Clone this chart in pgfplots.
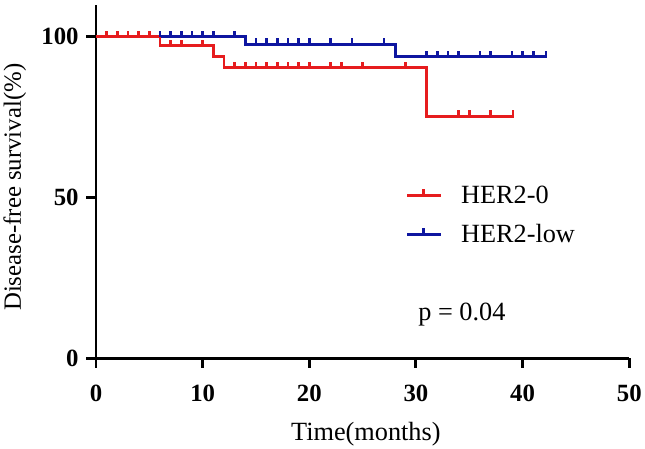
\documentclass[border=0pt]{standalone}
\usepackage{pgfplots}
\pgfplotsset{compat=1.18}
\usepackage{fontspec}
\setmainfont{Liberation Serif}

\definecolor{kmred}{RGB}{230,28,30}
\definecolor{kmblue}{RGB}{14,22,160}

% censor mark: short upward tick
\pgfdeclareplotmark{cens}{%
  \pgfpathmoveto{\pgfqpoint{0pt}{0pt}}%
  \pgfpathlineto{\pgfqpoint{0pt}{6pt}}%
  \pgfusepathqstroke}

\begin{document}
\begin{tikzpicture}
\begin{axis}[
    scale only axis,
    width=537.7pt, height=356.4pt,
    xmin=0, xmax=50, ymin=0, ymax=110,
    axis x line=bottom, axis y line=left,
    axis line style={-, line width=3pt},
    xtick={0,10,20,30,40,50},
    ytick={0,50,100},
    tick align=outside,
    major tick length=10pt,
    tick style={line width=3pt, black},
    /pgf/number format/assume math mode=true,
    ticklabel style={font=\fontsize{25}{25}\selectfont\bfseries},
    xticklabel style={yshift=-14pt},
    yticklabel style={xshift=-4pt},
    xlabel={Time(months)},
    ylabel={Disease-free survival(\%)},
    xlabel style={at={(axis description cs:0.506,-0.214)}, anchor=center,
        font=\fontsize{26.5}{26.5}\selectfont},
    ylabel style={at={(axis description cs:-0.1525,0.483)}, anchor=center,
        font=\fontsize{25}{25}\selectfont},
    clip=false,
    legend style={draw=none, fill=none, at={(axis description cs:0.58,0.405)},
        anchor=west, inner sep=0pt, row sep=20pt,
        font=\fontsize{26.5}{26.5}\selectfont,
        nodes={inner xsep=0pt, inner ysep=0pt}},
    legend cell align=left,
    legend image code/.code={%
        \draw[#1] (0pt,0pt) -- (34pt,0pt);
        \draw[#1] (17pt,0pt) -- (17pt,6pt);
        \path (53pt,0pt);},
]

% blue drawn first (red lies on top where both are at 100%)
\addplot[kmblue, line width=3pt, const plot, forget plot] coordinates {
    (0,100) (14,97.6) (28.1,93.8) (42.3,93.8)};
\addplot[kmblue, line width=2.5pt, only marks, mark=cens, forget plot] coordinates {
    (6,100) (7,100) (8,100) (9,100) (10,100) (11,100) (13,100)
    (15,97.6) (16,97.6) (17,97.6) (18,97.6) (19,97.6) (20,97.6) (22,97.6) (24,97.6) (27,97.6)
    (31,93.8) (32,93.8) (33,93.8) (34,93.8) (36,93.8) (37,93.8) (39,93.8) (40,93.8) (41,93.8) (42.2,93.8)};

\addplot[kmred, line width=3pt, const plot, forget plot] coordinates {
    (0,100) (6,97.2) (11,93.9) (12,90.3) (31,75.2) (39.2,75.2)};
\addplot[kmred, line width=2.5pt, only marks, mark=cens, forget plot] coordinates {
    (1,100) (2,100) (3,100) (4,100) (5,100)
    (7,97.2) (8,97.2) (10,97.2)
    (13,90.3) (14,90.3) (15,90.3) (16,90.3) (17,90.3) (18,90.3) (19,90.3) (20,90.3) (22,90.3) (23,90.3) (25,90.3) (29,90.3)
    (34,75.2) (35,75.2) (37,75.2) (39.1,75.2)};

\addlegendimage{kmred, line width=3pt}
\addlegendentry{HER2-0}
\addlegendimage{kmblue, line width=3pt}
\addlegendentry{HER2-low}

\node[font=\fontsize{26.5}{26.5}\selectfont] at (axis cs:34.3,13.4) {p = 0.04};

\path (axis description cs:-0.1767,-0.2469) rectangle (axis description cs:1.0229,1.0129);
\end{axis}
\end{tikzpicture}
\end{document}
